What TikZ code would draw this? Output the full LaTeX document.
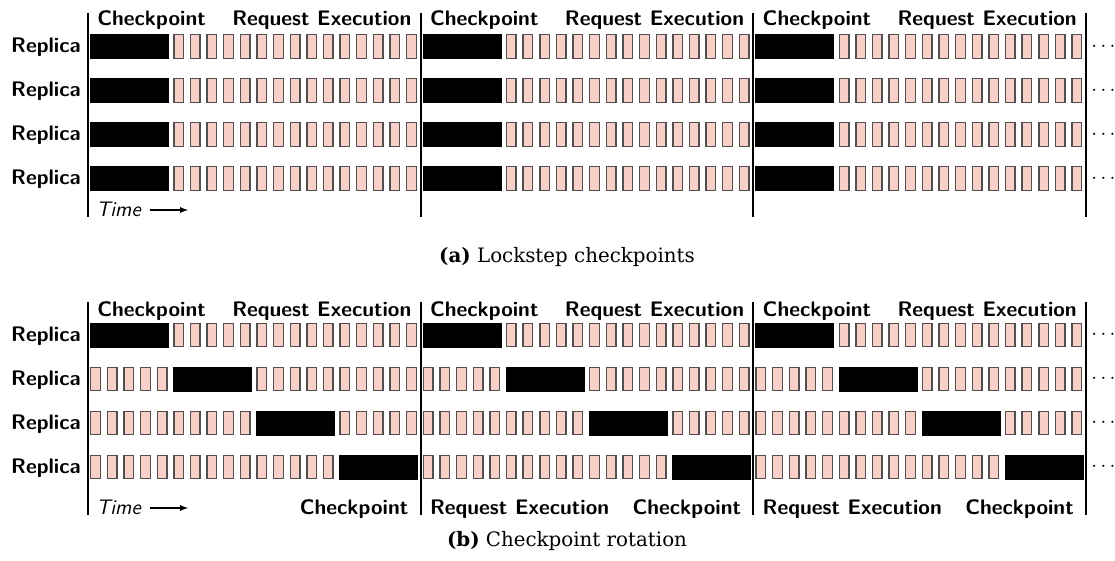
\documentclass[tikz,border=0pt]{standalone}
\usepackage{fontspec}
\newfontfamily\capfont{DejaVu Serif}
\usepackage{xcolor}
\usepackage{tikz}
\usetikzlibrary{arrows,positioning,calc}

\definecolor{reqfill}{RGB}{248,208,200}
\definecolor{reqedge}{RGB}{80,80,80}

\begin{document}
\begin{tikzpicture}[x=0.58pt, y=-0.58pt, font=\fontsize{12.2}{14}\selectfont\sffamily\bfseries]
  % Define styles
  \tikzstyle{request} = [draw=reqedge, fill=reqfill, line width=0.8pt]
  \tikzstyle{checkpoint} = [fill=black]
  \tikzstyle{divider} = [line width=1.1pt]
  \tikzstyle{label} = [inner sep=0pt]
  \tikzstyle{timelabel} = [inner sep=0pt, font=\fontsize{12.2}{14}\selectfont\sffamily\mdseries\itshape]
  \tikzstyle{arrow} = [line width=0.6pt, -latex]
  \tikzstyle{caption} = [inner sep=0pt, font=\fontsize{11.5}{14}\selectfont\capfont]

  \useasboundingbox (0,0) rectangle (1115,560);

  % Slots: panel (a) lockstep, panel (b) rotating checkpoint
  \foreach \base/\rot in {46.5/0, 335/5} {
    \foreach \r in {0,...,3} {
      \pgfmathsetmacro{\yc}{\base+44*\r}
      \pgfmathtruncatemacro{\c}{\rot*\r}
      \foreach \p in {0,1,2} {
        \pgfmathsetmacro{\xc}{90+\p*332.7+\c*16.63}
        \fill[checkpoint] (\xc,\yc-12.5) rectangle ({\xc+79},\yc+12.5);
        \foreach \i in {0,...,19} {
          \pgfmathtruncatemacro{\inck}{(\i>=\c)&&(\i<\c+5)}
          \ifnum\inck=0
            \pgfmathsetmacro{\xi}{90+\p*332.7+\i*16.63}
            \draw[request] ({\xi+0.7},\yc-11.8) rectangle ({\xi+10.3},\yc+11.8);
          \fi
        }
      }
      \node[label, anchor=base east] (rep-\base-\r) at (81,\yc+6.2) {Replica};
      \node[label, anchor=west, font=\fontsize{12}{14}\selectfont] (dots-\base-\r) at (1091,\yc) {$\cdots$};
    }
  }

  % Period dividers
  \foreach \p in {0,...,3} {
    \draw[divider] (88+\p*332.7,12.7) -- (88+\p*332.7,217);
    \draw[divider] (88+\p*332.7,302) -- (88+\p*332.7,515);
  }

  % Phase labels on top
  \foreach \p in {0,1,2} {
    \node[label, anchor=base west] (cpa\p) at (97+\p*332.7,25) {Checkpoint};
    \node[label, anchor=base east] (rea\p) at (411.7+\p*332.7,25) {Request Execution};
    \node[label, anchor=base west] (cpb\p) at (97+\p*332.7,316) {Checkpoint};
    \node[label, anchor=base east] (reb\p) at (411.7+\p*332.7,316) {Request Execution};
    \node[label, anchor=base east] (cpc\p) at (408.7+\p*332.7,514) {Checkpoint};
  }
  \node[label, anchor=base west] (rec1) at (429.7,514) {Request Execution};
  \node[label, anchor=base west] (rec2) at (762.4,514) {Request Execution};

  % Time axis
  \node[timelabel, anchor=base west] (timea) at (96,216) {Time};
  \coordinate (tipa) at (188,210);
  \draw[arrow] ([xshift=5pt]timea.east |- tipa) -- (tipa);
  \node[timelabel, anchor=base west] (timeb) at (96,514) {Time};
  \coordinate (tipb) at (188,508);
  \draw[arrow] ([xshift=5pt]timeb.east |- tipb) -- (tipb);

  % Captions
  \node[caption, anchor=base] (capa) at (567,262) {\textbf{(a)} Lockstep checkpoints};
  \node[caption, anchor=base] (capb) at (567,546.5) {\textbf{(b)} Checkpoint rotation};
\end{tikzpicture}
\end{document}
